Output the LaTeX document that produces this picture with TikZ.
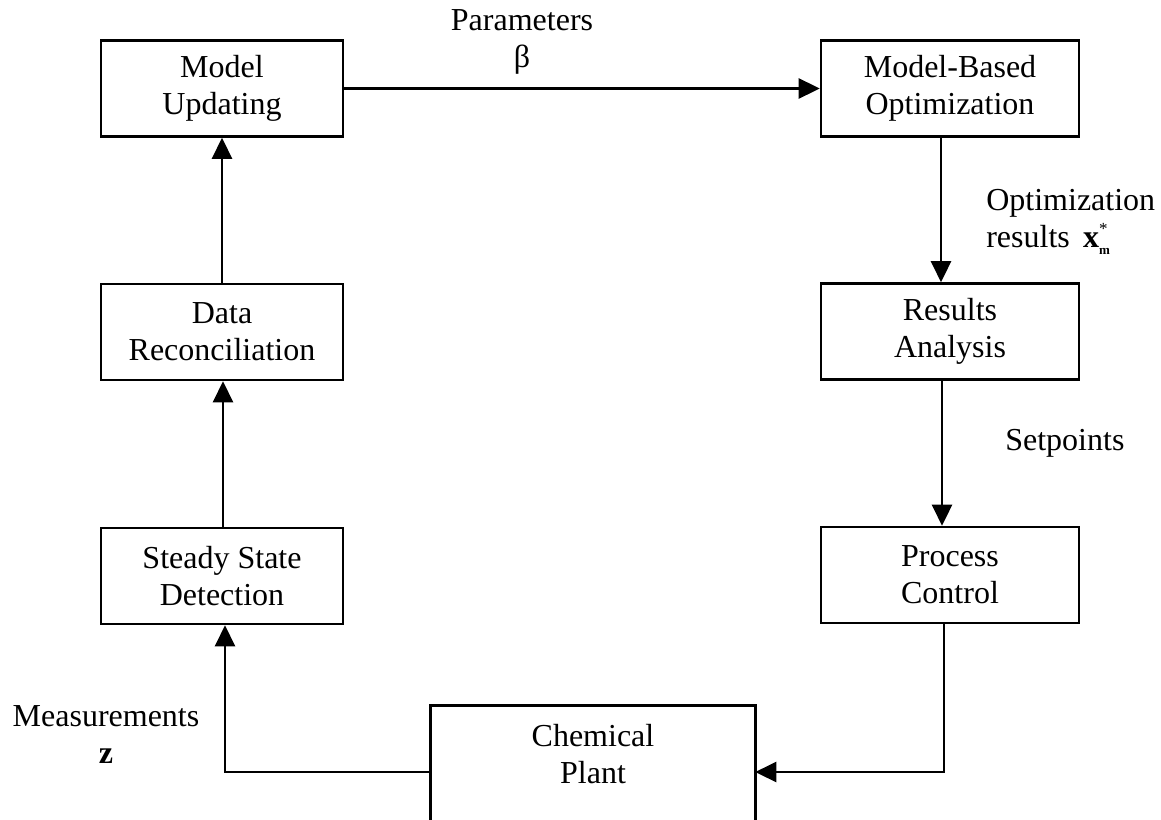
\documentclass[tikz,border=0pt]{standalone}
\usepackage{fontspec}
\setmainfont{Liberation Serif}
\usetikzlibrary{arrows.meta}
\begin{document}
\begin{tikzpicture}[
  x=1pt, y=-1pt,
  font=\fontsize{32}{37}\selectfont,
  line width=2.6pt,
  stage/.style={draw, align=center, inner sep=0pt, minimum height=96pt},
  leftstage/.style={stage, minimum width=242pt},
  rightstage/.style={stage, minimum width=258pt},
  flow/.style={-{Triangle[length=21pt, width=20pt]}},
  tag/.style={align=center, inner sep=0pt}
]
\path[use as bounding box, clip] (0,0) rectangle (1161,819);

% left column: plant data back to the model
\node[leftstage] (mu)  at (222,88.5) {Model\\Updating};
\node[leftstage] (dr)  at (222,332)  {Data\\Reconciliation};
\node[leftstage] (ssd) at (222,576)  {Steady State\\Detection};

% right column: optimization down to control
\node[rightstage] (mbo) at (950,88.5) {Model-Based\\Optimization};
\node[rightstage] (ra)  at (950,331.5) {Results\\Analysis};
\node[rightstage] (pc)  at (950,575) {Process\\Control};

% the plant, whose box runs past the lower edge
\node[tag, minimum width=322pt, minimum height=94pt] (plant) at (593,754) {Chemical\\Plant};
\draw ([yshift=-120pt]plant.south west) |- (plant.north east) -- ([yshift=-120pt]plant.south east);

% connectors
\draw[flow] (mu) -- (mbo);
\draw[flow] ([xshift=-9pt]mbo.south) -- ([xshift=-9pt]ra.north);
\draw[flow] ([xshift=-8pt]ra.south) -- ([xshift=-8pt]pc.north);
\draw[flow] ([xshift=-6pt]pc.south) |- ([yshift=-18pt]plant.east);
\draw[flow] ([yshift=-18pt]plant.west) -| ([xshift=3pt]ssd.south);
\draw[flow] ([xshift=1pt]ssd.north) -- ([xshift=1pt]dr.south);
\draw[flow] (dr) -- (mu);

% signal labels
\node[tag] (lpar) at (522,42) {Parameters\\β};
\node[tag, align=left, anchor=west] (lopt) at (985,222)
  {Optimization\\results~\,\textbf{x}\rlap{\raisebox{0.42em}{\fontsize{17}{17}\selectfont *}}\raisebox{-0.22em}{\fontsize{13}{13}\selectfont\bfseries m}};
\node[tag, anchor=west] (lset) at (1004,443) {Setpoints};
\node[tag] (lmeas) at (106,735) {Measurements\\\textbf{z}};
\end{tikzpicture}
\end{document}
